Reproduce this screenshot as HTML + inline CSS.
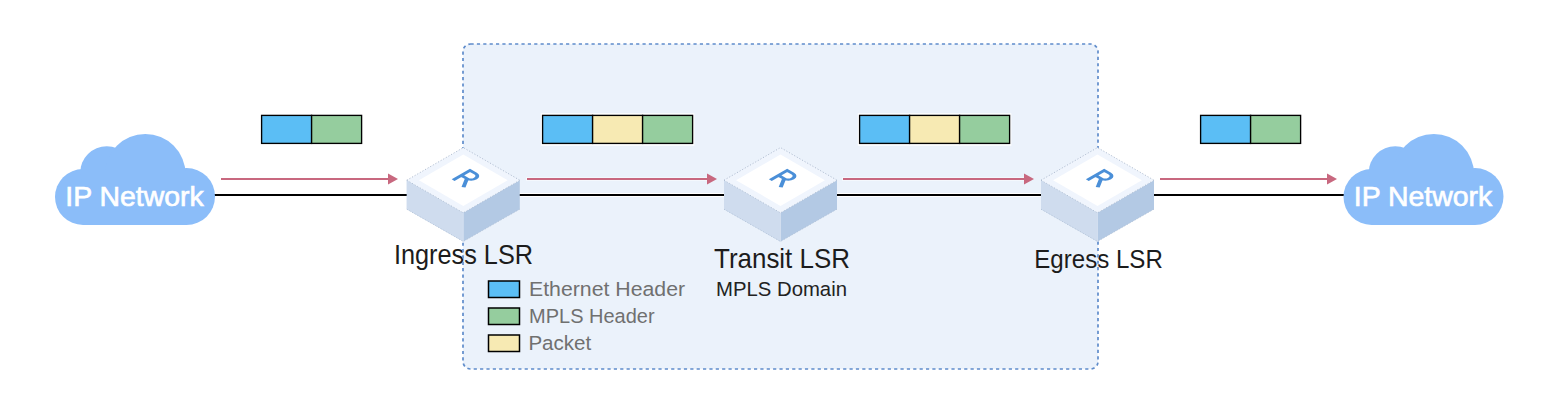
<!DOCTYPE html>
<html><head><meta charset="utf-8"><style>
html,body{margin:0;padding:0;background:#fff;width:1560px;height:416px;overflow:hidden}
svg{display:block}
</style></head><body>
<svg width="1560" height="416" viewBox="0 0 1560 416">
<rect x="463" y="44" width="635" height="325" rx="7.5" fill="#EBF2FB"/>
<line x1="214" y1="195" x2="410" y2="195" stroke="#FFFFFF" stroke-width="4"/>
<line x1="214" y1="195" x2="410" y2="195" stroke="#000" stroke-width="2.2"/>
<line x1="516" y1="195" x2="727" y2="195" stroke="#FFFFFF" stroke-width="4"/>
<line x1="516" y1="195" x2="727" y2="195" stroke="#000" stroke-width="2.2"/>
<line x1="833" y1="195" x2="1044" y2="195" stroke="#FFFFFF" stroke-width="4"/>
<line x1="833" y1="195" x2="1044" y2="195" stroke="#000" stroke-width="2.2"/>
<line x1="1150" y1="195" x2="1344.6" y2="195" stroke="#FFFFFF" stroke-width="4"/>
<line x1="1150" y1="195" x2="1344.6" y2="195" stroke="#000" stroke-width="2.2"/>
<g transform="translate(0,0)" fill="#8BBDF9">
<circle cx="83" cy="197" r="28"/>
<circle cx="186.5" cy="196.5" r="28.5"/>
<circle cx="106.8" cy="172.8" r="26.6"/>
<circle cx="145.3" cy="174.3" r="40.3"/>
<rect x="83" y="171" width="103.5" height="54"/>
</g>
<g transform="translate(1288.5,0)" fill="#8BBDF9">
<circle cx="83" cy="197" r="28"/>
<circle cx="186.5" cy="196.5" r="28.5"/>
<circle cx="106.8" cy="172.8" r="26.6"/>
<circle cx="145.3" cy="174.3" r="40.3"/>
<rect x="83" y="171" width="103.5" height="54"/>
</g>
<line x1="220" y1="179" x2="389" y2="179" stroke="#FFFFFF" stroke-opacity="0.6" stroke-width="3.6"/><line x1="221" y1="179" x2="389" y2="179" stroke="#C8687F" stroke-width="2"/><path d="M388,173.5 L398,179 L388,184.5 Z" fill="#C8687F"/>
<line x1="526" y1="179" x2="708" y2="179" stroke="#FFFFFF" stroke-opacity="0.6" stroke-width="3.6"/><line x1="527" y1="179" x2="708" y2="179" stroke="#C8687F" stroke-width="2"/><path d="M707,173.5 L717,179 L707,184.5 Z" fill="#C8687F"/>
<line x1="842" y1="179" x2="1025" y2="179" stroke="#FFFFFF" stroke-opacity="0.6" stroke-width="3.6"/><line x1="843" y1="179" x2="1025" y2="179" stroke="#C8687F" stroke-width="2"/><path d="M1024,173.5 L1034,179 L1024,184.5 Z" fill="#C8687F"/>
<line x1="1159" y1="179" x2="1328" y2="179" stroke="#FFFFFF" stroke-opacity="0.6" stroke-width="3.6"/><line x1="1160" y1="179" x2="1328" y2="179" stroke="#C8687F" stroke-width="2"/><path d="M1327,173.5 L1337,179 L1327,184.5 Z" fill="#C8687F"/>
<rect x="260.6" y="114" width="102" height="31" fill="none" stroke="#FFFFFF" stroke-width="1.5"/>
<rect x="261.6" y="115.4" width="50" height="28" fill="#5BBEF5" stroke="#000" stroke-width="1.35"/>
<rect x="311.6" y="115.4" width="50" height="28" fill="#95CD9E" stroke="#000" stroke-width="1.35"/>
<rect x="541.6" y="114" width="152" height="31" fill="none" stroke="#FFFFFF" stroke-width="1.5"/>
<rect x="542.6" y="115.4" width="50" height="28" fill="#5BBEF5" stroke="#000" stroke-width="1.35"/>
<rect x="592.6" y="115.4" width="50" height="28" fill="#F7EAB3" stroke="#000" stroke-width="1.35"/>
<rect x="642.6" y="115.4" width="50" height="28" fill="#95CD9E" stroke="#000" stroke-width="1.35"/>
<rect x="858.6" y="114" width="152" height="31" fill="none" stroke="#FFFFFF" stroke-width="1.5"/>
<rect x="859.6" y="115.4" width="50" height="28" fill="#5BBEF5" stroke="#000" stroke-width="1.35"/>
<rect x="909.6" y="115.4" width="50" height="28" fill="#F7EAB3" stroke="#000" stroke-width="1.35"/>
<rect x="959.6" y="115.4" width="50" height="28" fill="#95CD9E" stroke="#000" stroke-width="1.35"/>
<rect x="1199.6" y="114" width="102" height="31" fill="none" stroke="#FFFFFF" stroke-width="1.5"/>
<rect x="1200.6" y="115.4" width="50" height="28" fill="#5BBEF5" stroke="#000" stroke-width="1.35"/>
<rect x="1250.6" y="115.4" width="50" height="28" fill="#95CD9E" stroke="#000" stroke-width="1.35"/>
<text x="65.3" y="206" font-family="Liberation Sans, sans-serif" font-size="27.6" font-weight="normal" fill="#FFFFFF" stroke="#FFFFFF" stroke-width="0.65" textLength="138.5" lengthAdjust="spacingAndGlyphs">IP Network</text>
<text x="1353.8" y="206" font-family="Liberation Sans, sans-serif" font-size="27.6" font-weight="normal" fill="#FFFFFF" stroke="#FFFFFF" stroke-width="0.65" textLength="138.5" lengthAdjust="spacingAndGlyphs">IP Network</text>
<text x="394" y="264" font-family="Liberation Sans, sans-serif" font-size="27.3" font-weight="normal" fill="#1c1c1c" textLength="139" lengthAdjust="spacingAndGlyphs">Ingress LSR</text>
<text x="714" y="268" font-family="Liberation Sans, sans-serif" font-size="27.2" font-weight="normal" fill="#1c1c1c" textLength="136" lengthAdjust="spacingAndGlyphs">Transit LSR</text>
<text x="1034.3" y="267.9" font-family="Liberation Sans, sans-serif" font-size="26.6" font-weight="normal" fill="#1c1c1c" textLength="128.5" lengthAdjust="spacingAndGlyphs">Egress LSR</text>
<text x="716" y="295.5" font-family="Liberation Sans, sans-serif" font-size="19.3" font-weight="normal" fill="#222" textLength="131" lengthAdjust="spacingAndGlyphs">MPLS Domain</text>
<rect x="488.5" y="281.0" width="31" height="16.5" fill="#5BBEF5" stroke="#000" stroke-width="1.5"/>
<text x="529" y="295.6" font-family="Liberation Sans, sans-serif" font-size="19.3" font-weight="normal" fill="#707070" textLength="156.1" lengthAdjust="spacingAndGlyphs">Ethernet Header</text>
<rect x="488.5" y="308.0" width="31" height="16.5" fill="#95CD9E" stroke="#000" stroke-width="1.5"/>
<text x="529.1" y="322.6" font-family="Liberation Sans, sans-serif" font-size="19.3" font-weight="normal" fill="#707070" textLength="125.5" lengthAdjust="spacingAndGlyphs">MPLS Header</text>
<rect x="488.5" y="335.0" width="31" height="16.5" fill="#F7EAB3" stroke="#000" stroke-width="1.5"/>
<text x="528.4" y="349.6" font-family="Liberation Sans, sans-serif" font-size="19.3" font-weight="normal" fill="#707070" textLength="62.9" lengthAdjust="spacingAndGlyphs">Packet</text>
<rect x="463" y="44" width="635" height="325" rx="7.5" fill="none" stroke="#5F8CCB" stroke-width="1.7" stroke-dasharray="3.2,3.17"/>
<path d="M406.8,180.2 L463.3,212.8 L519.8,180.2 L519.8,209.2 L463.3,241.5 L406.8,209.2 Z" fill="#B3C9E4"/>
<path d="M406.8,180.2 L463.3,212.8 L463.3,241.5 L406.8,209.2 Z" fill="#CFDCEE"/>
<path d="M463.3,212.8 L463.3,241.5" stroke="#DDE6F3" stroke-width="0.6"/>
<path d="M406.8,209.2 L463.3,241.5 L519.8,209.2" fill="none" stroke="#A9B8CC" stroke-width="0.6" stroke-dasharray="1.2,1.8"/>
<path d="M463.3,147.6 L519.8,180.2 L463.3,212.8 L406.8,180.2 Z" fill="#F0F5FD"/>
<path d="M406.8,180.2 L463.3,147.6 L519.8,180.2" fill="none" stroke="#98A8BE" stroke-width="0.7" stroke-dasharray="1.2,1.8"/>
<path d="M406.8,180.2 L463.3,212.8 L519.8,180.2" fill="none" stroke="#A4B3C8" stroke-width="0.7" stroke-dasharray="1.2,1.8"/>
<path d="M463.3,154.5 L507.7,180.2 L463.3,205.9 L418.90000000000003,180.2 Z" fill="#FFFFFF"/>
<g transform="matrix(0.866,0.5,-0.866,0.5,453.1,180.1)"><path d="M0,0 L0,-19.5 L6.3,-19.5 A5,5 0 0 1 6.3,-9.5 L0,-9.5 M6.5,-9.5 L13.2,1.2" fill="none" stroke="#4A8FD8" stroke-width="3.3" stroke-linejoin="miter" stroke-linecap="butt"/></g>
<path d="M724.0,180.2 L780.5,212.8 L837.0,180.2 L837.0,209.2 L780.5,241.5 L724.0,209.2 Z" fill="#B3C9E4"/>
<path d="M724.0,180.2 L780.5,212.8 L780.5,241.5 L724.0,209.2 Z" fill="#CFDCEE"/>
<path d="M780.5,212.8 L780.5,241.5" stroke="#DDE6F3" stroke-width="0.6"/>
<path d="M724.0,209.2 L780.5,241.5 L837.0,209.2" fill="none" stroke="#A9B8CC" stroke-width="0.6" stroke-dasharray="1.2,1.8"/>
<path d="M780.5,147.6 L837.0,180.2 L780.5,212.8 L724.0,180.2 Z" fill="#F0F5FD"/>
<path d="M724.0,180.2 L780.5,147.6 L837.0,180.2" fill="none" stroke="#98A8BE" stroke-width="0.7" stroke-dasharray="1.2,1.8"/>
<path d="M724.0,180.2 L780.5,212.8 L837.0,180.2" fill="none" stroke="#A4B3C8" stroke-width="0.7" stroke-dasharray="1.2,1.8"/>
<path d="M780.5,154.5 L824.9,180.2 L780.5,205.9 L736.1,180.2 Z" fill="#FFFFFF"/>
<g transform="matrix(0.866,0.5,-0.866,0.5,770.3,180.1)"><path d="M0,0 L0,-19.5 L6.3,-19.5 A5,5 0 0 1 6.3,-9.5 L0,-9.5 M6.5,-9.5 L13.2,1.2" fill="none" stroke="#4A8FD8" stroke-width="3.3" stroke-linejoin="miter" stroke-linecap="butt"/></g>
<path d="M1041.0,180.2 L1097.5,212.8 L1154.0,180.2 L1154.0,209.2 L1097.5,241.5 L1041.0,209.2 Z" fill="#B3C9E4"/>
<path d="M1041.0,180.2 L1097.5,212.8 L1097.5,241.5 L1041.0,209.2 Z" fill="#CFDCEE"/>
<path d="M1097.5,212.8 L1097.5,241.5" stroke="#DDE6F3" stroke-width="0.6"/>
<path d="M1041.0,209.2 L1097.5,241.5 L1154.0,209.2" fill="none" stroke="#A9B8CC" stroke-width="0.6" stroke-dasharray="1.2,1.8"/>
<path d="M1097.5,147.6 L1154.0,180.2 L1097.5,212.8 L1041.0,180.2 Z" fill="#F0F5FD"/>
<path d="M1041.0,180.2 L1097.5,147.6 L1154.0,180.2" fill="none" stroke="#98A8BE" stroke-width="0.7" stroke-dasharray="1.2,1.8"/>
<path d="M1041.0,180.2 L1097.5,212.8 L1154.0,180.2" fill="none" stroke="#A4B3C8" stroke-width="0.7" stroke-dasharray="1.2,1.8"/>
<path d="M1097.5,154.5 L1141.9,180.2 L1097.5,205.9 L1053.1,180.2 Z" fill="#FFFFFF"/>
<g transform="matrix(0.866,0.5,-0.866,0.5,1087.3,180.1)"><path d="M0,0 L0,-19.5 L6.3,-19.5 A5,5 0 0 1 6.3,-9.5 L0,-9.5 M6.5,-9.5 L13.2,1.2" fill="none" stroke="#4A8FD8" stroke-width="3.3" stroke-linejoin="miter" stroke-linecap="butt"/></g>
</svg>
</body></html>
